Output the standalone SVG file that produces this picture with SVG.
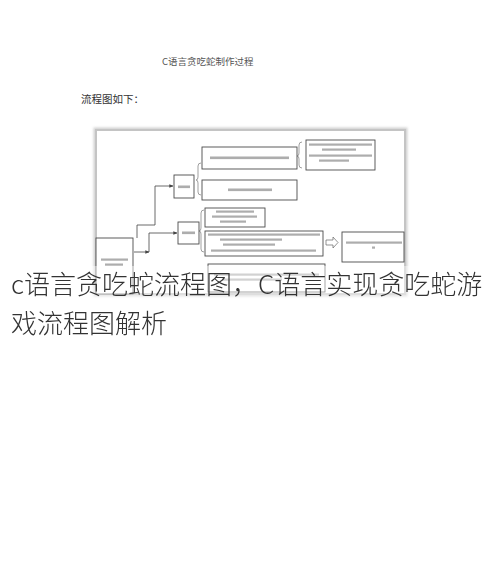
<svg xmlns="http://www.w3.org/2000/svg" width="490" height="584" viewBox="0 0 490 584">
<defs>
<style>
.bx{fill:#fff;stroke:#4a4a4a;stroke-width:0.9}
.ln{fill:none;stroke:#444;stroke-width:0.8}
.br{fill:none;stroke:#777;stroke-width:0.7}
.tb{fill:#777;opacity:0.6}
.t{font-family:"Noto Sans CJK SC","Noto Sans",sans-serif}
</style>
<marker id="ah" viewBox="0 0 6 6" refX="5.5" refY="3" markerWidth="5" markerHeight="5" orient="auto">
<path d="M0,0.5 L6,3 L0,5.5 Z" fill="#444"/>
</marker>
<filter id="sh" x="-5%" y="-5%" width="110%" height="110%"><feGaussianBlur stdDeviation="1.2"/></filter>
<filter id="bl" x="-10%" y="-50%" width="120%" height="200%"><feGaussianBlur stdDeviation="0.5"/></filter>
</defs>
<rect width="490" height="584" fill="#fff"/>
<text class="t" x="162" y="65" font-size="9.5" fill="#555">C语言贪吃蛇制作过程</text>
<text class="t" x="81" y="103" font-size="10.5" fill="#333">流程图如下：</text>
<g id="frame">
<rect x="96" y="130" width="309" height="164" fill="none" stroke="#d2d2d2" stroke-width="5" filter="url(#sh)"/>
<rect x="96" y="130" width="309" height="164" fill="#fff" stroke="#c4c4c4" stroke-width="2"/>
</g>
<g id="connectors">
<path class="ln" d="M134 252 H149" marker-end="url(#ah)"/>
<path class="ln" d="M149 252 V233 H177" marker-end="url(#ah)"/>
<path class="ln" d="M137 238 V225 H155 V186 H173" marker-end="url(#ah)"/>
<path class="br" d="M201 163 Q198 163 198 166 V177 Q198 180 196 180 Q198 180 198 183 V192 Q198 195 201 195"/>
<path class="br" d="M302 142 Q299 142 299 145 V153 Q299 156 297 156 Q299 156 299 159 V165 Q299 168 302 168"/>
<path class="br" d="M204 210 Q201 210 201 213 V228 Q201 231 199 231 Q201 231 201 234 V249 Q201 252 204 252"/>
<path d="M326 240 H333 V237 L338 242.5 L333 248 V245 H326 Z" fill="#fff" stroke="#666" stroke-width="0.7"/>
</g>
<g filter="url(#bl)">
<g id="nodeA"><rect class="bx" x="202" y="147" width="95" height="22"/><rect class="tb" x="210" y="156.5" width="79" height="2.6"/></g>
<g id="nodeB"><rect class="bx" x="202" y="180" width="95" height="20"/><rect class="tb" x="228" y="188.5" width="44" height="2.6"/></g>
<g id="nodeC"><rect class="bx" x="306" y="140" width="69" height="30"/>
<rect class="tb" x="309" y="143.5" width="63" height="2.2"/><rect class="tb" x="322" y="148.5" width="34" height="2.2"/><rect class="tb" x="309" y="154.5" width="63" height="2.2"/><rect class="tb" x="319" y="159.5" width="30" height="2.2"/></g>
<g id="nodeD"><rect class="bx" x="174" y="175" width="20" height="23"/><rect class="tb" x="178" y="185.5" width="12" height="2.6"/></g>
<g id="nodeE"><rect class="bx" x="205" y="208" width="60" height="19"/>
<rect class="tb" x="216" y="210.5" width="38" height="2.2"/><rect class="tb" x="212" y="215.5" width="45" height="2.2"/><rect class="tb" x="220" y="220.5" width="26" height="2.2"/></g>
<g id="nodeF"><rect class="bx" x="205" y="231" width="118" height="25"/>
<rect class="tb" x="208" y="233.5" width="112" height="2.2"/><rect class="tb" x="220" y="238.5" width="62" height="2.2"/><rect class="tb" x="223" y="243.5" width="52" height="2.2"/><rect class="tb" x="211" y="249.5" width="105" height="2.2"/></g>
<g id="nodeG"><rect class="bx" x="178" y="222" width="21" height="22"/><rect class="tb" x="182" y="231.5" width="13" height="2.6"/></g>
<g id="nodeH"><rect class="bx" x="342" y="232" width="62" height="30"/><rect class="tb" x="346" y="241.5" width="56" height="2.2"/><rect class="tb" x="372" y="246.5" width="3" height="2.2"/></g>
<g id="nodeI"><rect class="bx" x="96" y="238" width="37" height="56"/><rect class="tb" x="101" y="258.5" width="27" height="2.2"/><rect class="tb" x="105" y="263.5" width="18" height="2.2"/></g>
<g id="nodeJ"><rect class="bx" x="208" y="264" width="117" height="28"/><rect class="tb" x="214" y="273.5" width="105" height="2.2"/><rect class="tb" x="222" y="278.5" width="60" height="2.2"/></g>
</g>
<rect x="0" y="266" width="490" height="36" fill="#fff" opacity="0.45"/>
<text class="t" x="11" y="294" font-size="26" font-weight="300" fill="#333">c语言贪吃蛇流程图，C语言实现贪吃蛇游</text>
<text class="t" x="11" y="333" font-size="26" font-weight="300" fill="#333">戏流程图解析</text>
</svg>
